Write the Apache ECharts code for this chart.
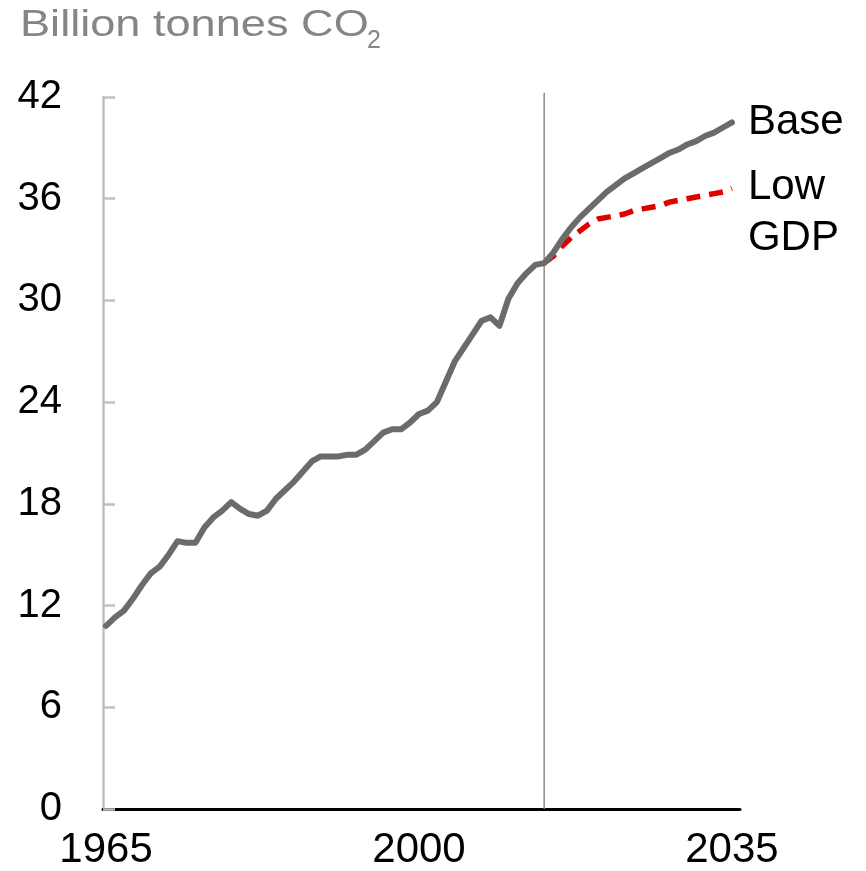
<!DOCTYPE html>
<html>
<head>
<meta charset="utf-8">
<script src="https://cdn.jsdelivr.net/npm/echarts@6/dist/echarts.min.js"></script>
<style>html,body{margin:0;padding:0;background:#fff}#c{width:866px;height:871px}</style>
</head>
<body>
<div id="c"></div>
<script>
// Historical CO2 emissions, billion tonnes (1965-2014)
const histYears = [1965,1966,1967,1968,1969,1970,1971,1972,1973,1974,1975,1976,1977,1978,1979,1980,1981,1982,1983,1984,1985,1986,1987,1988,1989,1990,1991,1992,1993,1994,1995,1996,1997,1998,1999,2000,2001,2002,2003,2004,2005,2006,2007,2008,2009,2010,2011,2012,2013,2014];
const histValues = [10.8,11.3,11.7,12.4,13.2,13.9,14.3,15.0,15.8,15.7,15.7,16.6,17.2,17.6,18.1,17.7,17.4,17.3,17.6,18.3,18.8,19.3,19.9,20.5,20.8,20.8,20.8,20.9,20.9,21.2,21.7,22.2,22.4,22.4,22.8,23.3,23.5,24.0,25.2,26.4,27.2,28.0,28.8,29.0,28.5,30.1,31.0,31.6,32.1,32.2];
// Projections (2015-2035)
const projYears = [2015,2016,2017,2018,2019,2020,2021,2022,2023,2024,2025,2026,2027,2028,2029,2030,2031,2032,2033,2034,2035];
const baseValues = [32.8,33.6,34.3,34.9,35.4,35.9,36.4,36.8,37.2,37.5,37.8,38.1,38.4,38.7,38.9,39.2,39.4,39.7,39.9,40.2,40.5];
const lowGdpValues = [32.6,33.2,33.7,34.1,34.5,34.8,34.9,35.0,35.1,35.3,35.4,35.5,35.6,35.8,35.9,36.0,36.1,36.2,36.3,36.4,36.6];
const xTickLabels = [1965, 2000, 2035];
const dividerYear = 2014;
const dividerTop = 42.25;
const yTicks = {min: 0, max: 42, interval: 6};

const baseData = histYears.map((y, i) => [y, histValues[i]])
  .concat(projYears.map((y, i) => [y, baseValues[i]]));
const lowData = [[histYears[histYears.length - 1], histValues[histValues.length - 1]]]
  .concat(projYears.map((y, i) => [y, lowGdpValues[i]]));
const dividerData = [[dividerYear, yTicks.min], [dividerYear, dividerTop]];

const FONT = '"Liberation Sans", Arial, sans-serif';
const chart = echarts.init(document.getElementById('c'), null, {renderer: 'canvas'});
chart.setOption({
  animation: false,
  backgroundColor: '#ffffff',
  grid: {left: 103, right: 126, top: 97, bottom: 61, containLabel: false},
  graphic: [
    {type: 'text', x: 20, y: 7, scaleX: 1.22,
     style: {text: 'Billion tonnes CO', fill: '#858585', font: '37px ' + FONT, verticalAlign: 'top'}},
    {type: 'text', x: 367, y: 29,
     style: {text: '2', fill: '#858585', font: '25px ' + FONT, verticalAlign: 'top'}}
  ],
  xAxis: {
    type: 'value', min: 1964.66, max: 2035.9,
    axisLine: {show: true, lineStyle: {color: '#000', width: 3}},
    axisTick: {show: false},
    splitLine: {show: false},
    axisLabel: {customValues: xTickLabels, formatter: v => String(v), color: '#000', fontSize: 42, fontFamily: FONT, margin: 20}
  },
  yAxis: {
    type: 'value', min: yTicks.min, max: yTicks.max, interval: yTicks.interval,
    axisLine: {show: true, lineStyle: {color: '#c0c0c0', width: 2.5}},
    axisTick: {show: true, inside: true, length: 12, lineStyle: {color: '#c0c0c0', width: 2.5}},
    splitLine: {show: false},
    axisLabel: {color: '#000', fontSize: 40, fontFamily: FONT, margin: 41}
  },
  series: [
    {
      name: 'divider', type: 'line', data: dividerData, z: 1, silent: true,
      showSymbol: false, symbol: 'none', clip: false,
      lineStyle: {color: '#8c8c8c', width: 1.5, type: 'solid'}
    },
    {
      name: 'Low GDP', type: 'line', data: lowData, z: 2,
      showSymbol: false, symbol: 'none', clip: false,
      lineStyle: {color: '#e00000', width: 5.5, type: [14, 9], cap: 'butt'},
      endLabel: {show: true, formatter: 'Low\nGDP', color: '#000', fontSize: 42, fontFamily: FONT,
                 lineHeight: 51, distance: 16, offset: [0, 24]}
    },
    {
      name: 'Base', type: 'line', data: baseData, z: 3,
      showSymbol: false, symbol: 'none', clip: false,
      lineStyle: {color: '#6b6b6b', width: 6, cap: 'round', join: 'round'},
      endLabel: {show: true, formatter: 'Base', color: '#000', fontSize: 42, fontFamily: FONT, distance: 16}
    }
  ]
});
</script>
</body>
</html>
